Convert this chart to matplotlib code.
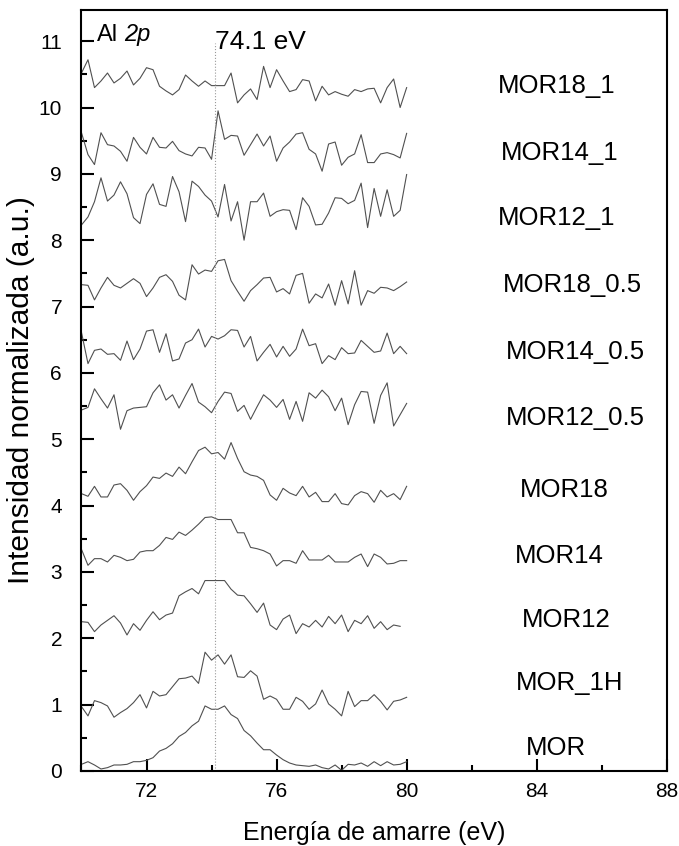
import numpy as np
import matplotlib
matplotlib.use("Agg")
import matplotlib.pyplot as plt
from matplotlib.ticker import MultipleLocator

plt.rcParams['font.family'] = ['Liberation Sans', 'DejaVu Sans']

# Al 2p spectra, offset vertically, sampled every 0.2 eV from 70 eV
mor = [0.10, 0.14, 0.09, 0.03, 0.05, 0.09, 0.09, 0.10, 0.14, 0.14, 0.16, 0.20, 0.30, 0.34, 0.41,
       0.52, 0.58, 0.68, 0.75, 0.98, 0.93, 0.93, 0.98, 0.85, 0.79, 0.61, 0.53, 0.42, 0.32, 0.32,
       0.24, 0.17, 0.12, 0.09, 0.08, 0.07, 0.09, 0.05, 0.03, 0.09, 0.01, 0.10, 0.09, 0.12, 0.07,
       0.14, 0.08, 0.14, 0.09, 0.10, 0.14]
mor_1h = [0.97, 0.83, 1.06, 1.03, 0.98, 0.81, 0.88, 0.94, 1.03, 1.15, 0.95, 1.20, 1.13, 1.15, 1.27,
          1.39, 1.40, 1.43, 1.32, 1.79, 1.67, 1.75, 1.61, 1.75, 1.42, 1.41, 1.51, 1.43, 1.08, 1.13,
          1.08, 0.93, 0.93, 1.11, 1.05, 0.93, 1.01, 1.22, 1.01, 0.93, 0.83, 1.20, 0.97, 1.06, 1.06,
          1.15, 1.05, 0.92, 1.05, 1.07, 1.11]
mor12 = [2.25, 2.24, 2.10, 2.20, 2.27, 2.34, 2.23, 2.05, 2.22, 2.12, 2.27, 2.40, 2.28, 2.35, 2.38,
         2.64, 2.70, 2.75, 2.67, 2.87, 2.87, 2.87, 2.87, 2.74, 2.65, 2.64, 2.52, 2.39, 2.53, 2.20,
         2.13, 2.29, 2.35, 2.07, 2.22, 2.17, 2.27, 2.17, 2.33, 2.22, 2.35, 2.10, 2.27, 2.22, 2.34,
         2.15, 2.25, 2.13, 2.20, 2.18]
mor14 = [3.34, 3.10, 3.20, 3.20, 3.15, 3.25, 3.22, 3.17, 3.19, 3.30, 3.32, 3.32, 3.40, 3.52, 3.49,
         3.60, 3.55, 3.63, 3.72, 3.82, 3.83, 3.79, 3.79, 3.79, 3.59, 3.59, 3.37, 3.35, 3.32, 3.27,
         3.09, 3.17, 3.17, 3.13, 3.32, 3.18, 3.18, 3.18, 3.25, 3.15, 3.15, 3.15, 3.22, 3.27, 3.08,
         3.27, 3.22, 3.12, 3.13, 3.17, 3.17]
mor18 = [4.18, 4.14, 4.29, 4.13, 4.13, 4.31, 4.33, 4.23, 4.08, 4.21, 4.30, 4.43, 4.41, 4.49, 4.44,
         4.58, 4.48, 4.66, 4.83, 4.88, 4.78, 4.80, 4.70, 4.95, 4.71, 4.51, 4.46, 4.44, 4.38, 4.16,
         4.08, 4.26, 4.19, 4.15, 4.29, 4.13, 4.20, 4.06, 4.06, 4.18, 4.03, 4.01, 4.15, 4.21, 4.18,
         4.05, 4.23, 4.13, 4.18, 4.09, 4.29]
mor12_05 = [5.44, 5.48, 5.76, 5.61, 5.47, 5.67, 5.15, 5.43, 5.47, 5.48, 5.49, 5.70, 5.82, 5.59, 5.67,
            5.47, 5.66, 5.84, 5.56, 5.49, 5.40, 5.57, 5.71, 5.69, 5.42, 5.51, 5.30, 5.49, 5.67, 5.59,
            5.48, 5.60, 5.30, 5.57, 5.27, 5.70, 5.62, 5.74, 5.64, 5.43, 5.62, 5.22, 5.52, 5.72, 5.71,
            5.24, 5.66, 5.85, 5.20, 5.37, 5.54]
mor14_05 = [6.61, 6.14, 6.34, 6.36, 6.28, 6.29, 6.19, 6.48, 6.20, 6.36, 6.63, 6.65, 6.31, 6.59, 6.18,
            6.21, 6.45, 6.50, 6.66, 6.39, 6.55, 6.51, 6.56, 6.65, 6.64, 6.39, 6.55, 6.18, 6.31, 6.43,
            6.24, 6.40, 6.25, 6.36, 6.66, 6.41, 6.44, 6.14, 6.26, 6.20, 6.38, 6.29, 6.30, 6.49, 6.40,
            6.31, 6.33, 6.60, 6.29, 6.40, 6.29]
mor18_05 = [7.33, 7.32, 7.10, 7.28, 7.44, 7.32, 7.28, 7.35, 7.42, 7.35, 7.15, 7.28, 7.44, 7.48, 7.38,
            7.17, 7.10, 7.63, 7.49, 7.55, 7.53, 7.69, 7.71, 7.39, 7.23, 7.08, 7.24, 7.33, 7.43, 7.44,
            7.22, 7.27, 7.19, 7.47, 7.50, 7.05, 7.19, 7.13, 7.34, 7.02, 7.39, 7.04, 7.54, 7.02, 7.24,
            7.20, 7.29, 7.28, 7.24, 7.30, 7.37]
mor12_1 = [8.23, 8.35, 8.58, 8.94, 8.59, 8.68, 8.88, 8.70, 8.34, 8.25, 8.69, 8.85, 8.54, 8.51, 8.96,
           8.73, 8.28, 8.89, 8.81, 8.68, 8.59, 8.35, 8.84, 8.29, 8.58, 8.00, 8.58, 8.58, 8.71, 8.36,
           8.43, 8.46, 8.45, 8.16, 8.64, 8.51, 8.23, 8.24, 8.41, 8.64, 8.63, 8.55, 8.60, 8.86, 8.19,
           8.78, 8.36, 8.76, 8.36, 8.45, 8.99]
mor14_1 = [9.62, 9.29, 9.14, 9.62, 9.44, 9.42, 9.34, 9.19, 9.55, 9.40, 9.30, 9.55, 9.40, 9.39, 9.49,
           9.35, 9.30, 9.27, 9.40, 9.39, 9.22, 9.95, 9.52, 9.58, 9.57, 9.28, 9.44, 9.60, 9.42, 9.57,
           9.19, 9.39, 9.48, 9.60, 9.62, 9.37, 9.30, 9.04, 9.45, 9.48, 9.13, 9.25, 9.30, 9.59, 9.17,
           9.17, 9.30, 9.32, 9.29, 9.24, 9.61]
mor18_1 = [10.52, 10.72, 10.30, 10.40, 10.52, 10.37, 10.44, 10.55, 10.34, 10.44, 10.60, 10.57, 10.32,
           10.25, 10.19, 10.27, 10.49, 10.40, 10.32, 10.40, 10.33, 10.33, 10.33, 10.52, 10.07, 10.19,
           10.28, 10.12, 10.62, 10.30, 10.57, 10.40, 10.24, 10.27, 10.42, 10.40, 10.10, 10.32, 10.19,
           10.24, 10.20, 10.17, 10.27, 10.24, 10.28, 10.29, 10.07, 10.30, 10.43, 10.00, 10.30]

series = [mor, mor_1h, mor12, mor14, mor18, mor12_05, mor14_05, mor18_05, mor12_1, mor14_1, mor18_1]
names = ["MOR", "MOR_1H", "MOR12", "MOR14", "MOR18", "MOR12_0.5", "MOR14_0.5", "MOR18_0.5",
         "MOR12_1", "MOR14_1", "MOR18_1"]
label_x = [84.6, 85.0, 84.9, 84.7, 84.85, 85.2, 85.2, 85.1, 84.6, 84.7, 84.6]
label_y = [0.35, 1.33, 2.27, 3.24, 4.23, 5.32, 6.31, 7.32, 8.33, 9.32, 10.33]

fig = plt.figure(figsize=(6.79, 8.46), dpi=100)
ax = fig.add_axes([0.12, 0.0887, 0.862, 0.8995])

for vals in series:
    x = 70 + 0.2 * np.arange(len(vals))
    ax.plot(x, vals, color='#505050', lw=0.8)

ax.plot([74.1, 74.1], [0, 10.97], color='#999999', lw=0.8, ls=':')

for name, lx, ly in zip(names, label_x, label_y):
    ax.text(lx, ly, name, fontsize=18.5, ha='center', va='center')

ax.text(70.47, 11.1, "Al", fontsize=17, ha='left', va='center')
ax.text(71.3, 11.1, "2p", fontsize=17, ha='left', va='center', style='italic')
ax.text(75.5, 10.98, "74.1 eV", fontsize=19, ha='center', va='center')

ax.set_xlim(70, 88)
ax.set_ylim(0, 11.47)
ax.xaxis.set_major_locator(MultipleLocator(4))
ax.xaxis.set_minor_locator(MultipleLocator(2))
ax.yaxis.set_major_locator(MultipleLocator(1))
ax.yaxis.set_minor_locator(MultipleLocator(0.5))
ax.tick_params(which='major', direction='in', length=9, width=1.5, labelsize=15)
ax.tick_params(which='minor', direction='in', length=4.5, width=1.5)
ax.tick_params(axis='y', which='major', pad=14)
ax.tick_params(axis='x', which='major', pad=8)
for s in ax.spines.values():
    s.set_linewidth(1.5)

ax.set_xlabel("Energía de amarre (eV)", fontsize=18, labelpad=14)
ax.set_ylabel("Intensidad normalizada (a.u.)", fontsize=21.5)
ax.yaxis.set_label_coords(-0.08, 0.5)

fig.savefig("out.png", dpi=100)
